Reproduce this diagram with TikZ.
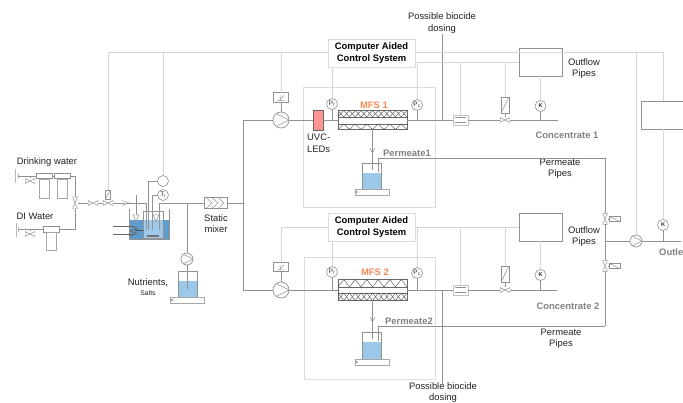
\documentclass[tikz,border=0pt]{standalone}
\usepackage{fontspec}
\setmainfont{Liberation Sans}
\definecolor{PipeColor}{HTML}{929292}
\definecolor{SignalColor}{HTML}{D6D6D6}
\definecolor{FrameColor}{HTML}{DDDDDD}
\definecolor{WaterColor}{HTML}{9CC8EA}
\definecolor{TankColor}{HTML}{5E9CCB}
\definecolor{LedColor}{HTML}{FF9494}
\definecolor{MfsColor}{HTML}{F58A55}
\definecolor{TextDark}{HTML}{222222}
\definecolor{TextGrey}{HTML}{808080}
\newcommand{\mfswave}[3]{\draw[zig] (338,#1) foreach \i in {1,...,6} {-- ++(5.75,#2) -- ++(5.75,#3)};}

\begin{document}
\begin{tikzpicture}[
        x=1pt, y=-1pt, line cap=butt,
        pipe/.style={draw=PipeColor, line width=0.8pt},
        signal/.style={draw=SignalColor, line width=0.8pt},
        zig/.style={draw=black!65, line width=0.45pt},
        part/.style={rectangle, draw=PipeColor, fill=white, line width=0.6pt, inner sep=0pt, outer sep=0pt},
        ctrlbox/.style={part, draw=FrameColor, line width=0.9pt, minimum width=87pt, minimum height=28pt, align=center, font=\fontsize{9.4}{12}\selectfont\bfseries, text=black},
        outbox/.style={part, line width=0.8pt, minimum width=43pt, minimum height=28pt},
        meter/.style={circle, draw=PipeColor, fill=white, line width=0.6pt, inner sep=0pt, outer sep=0pt, minimum size=11pt, font=\fontsize{6.5}{7}\selectfont, text=TextDark},
        pump/.style={circle, draw=PipeColor, fill=white, line width=0.7pt, inner sep=0pt, outer sep=0pt, minimum size=16pt,
          path picture={\draw[PipeColor, line width=0.6pt] (path picture bounding box.north west) -- (path picture bounding box.east) -- (path picture bounding box.south west);}},
        valve/.style={part, draw=none, fill=none, minimum width=10pt, minimum height=5pt,
          path picture={\draw[PipeColor, line width=0.5pt] (path picture bounding box.south west) -- (path picture bounding box.north east) -- (path picture bounding box.south east) -- (path picture bounding box.north west) -- cycle;}},
        vvalve/.style={part, draw=none, fill=none, minimum width=5pt, minimum height=12pt,
          path picture={\draw[PipeColor, line width=0.5pt] (path picture bounding box.north west) -- (path picture bounding box.north east) -- (path picture bounding box.south west) -- (path picture bounding box.south east) -- cycle;}},
        actuator/.style={part, minimum width=8pt, minimum height=16pt,
          path picture={\draw[PipeColor, line width=0.5pt] (path picture bounding box.south west) -- (path picture bounding box.north east);}},
        sideact/.style={part, minimum width=11pt, minimum height=5pt,
          path picture={\draw[PipeColor, line width=0.5pt] (path picture bounding box.north west) -- (path picture bounding box.south east);}},
        flow/.style={part, draw=SignalColor!70!PipeColor, minimum width=15pt, minimum height=10pt,
          path picture={\draw[PipeColor, line width=0.5pt] ([shift={(2pt,-2.5pt)}]path picture bounding box.north west) -- ([shift={(-2pt,-2.5pt)}]path picture bounding box.north east) ([shift={(2pt,2.5pt)}]path picture bounding box.south west) -- ([shift={(-2pt,2.5pt)}]path picture bounding box.south east);}},
        drive/.style={part, minimum width=15pt, minimum height=9.5pt,
          path picture={\draw[PipeColor, line width=0.5pt] ([shift={(-1pt,-3.5pt)}]path picture bounding box.center) -- ([shift={(-1pt,2pt)}]path picture bounding box.center) ([shift={(-4pt,-3pt)}]path picture bounding box.center) -- ([shift={(3pt,-3pt)}]path picture bounding box.center) ([shift={(-1pt,-2pt)}]path picture bounding box.center) -- ([shift={(3pt,2pt)}]path picture bounding box.center);}},
        base/.style={part, draw=PipeColor!80, minimum width=34pt, minimum height=6pt,
          path picture={\draw[PipeColor, line width=0.4pt] ([xshift=1.5pt]path picture bounding box.west) circle (1pt);}},
        head/.style={part, minimum width=16pt, minimum height=5.5pt},
        filt/.style={part, draw=PipeColor!80, minimum width=10pt, minimum height=19pt},
        lbl/.style={align=center, inner sep=0pt, font=\fontsize{9.4}{11.4}\selectfont, text=TextDark},
        slbl/.style={lbl, font=\fontsize{9.4}{11.4}\selectfont\bfseries, text=TextGrey},
        mlbl/.style={lbl, font=\fontsize{9.4}{11.4}\selectfont\bfseries, text=MfsColor}
      ]
        \useasboundingbox (0,0) rectangle (683,403);
        \clip (0,0) rectangle (683,403);

        % process frames and liquid levels
        \draw[draw=FrameColor, line width=0.8pt] (303,87) rectangle (435,207);
        \draw[draw=FrameColor, line width=0.8pt] (304,257) rectangle (435,379);
        \fill[WaterColor] (362,173) rectangle (381,189);
        \fill[WaterColor] (362,342) rectangle (381,359);
        \fill[WaterColor] (178,281) rectangle (197,297);
        \fill[TankColor] (129,220) rectangle (169,239);
        \fill[WaterColor] (143,220) rectangle (163,238);

        % feed side
        \node[lbl] (drink) at (47,162) {Drinking water};
        \node[lbl] (diw) at (35,216) {DI Water};
        \node[part, minimum width=0pt, minimum height=14pt] (wallA) at (15,176) {};
        \node[part, minimum width=0pt, minimum height=5pt] (stubA) at (18,176) {};
        \node[part, minimum width=0pt, minimum height=14pt] (wallB) at (16,230) {};
        \node[part, minimum width=0pt, minimum height=5pt] (stubB) at (18,229.5) {};
        \node[valve] (valveA) at (30,181) {};
        \node[valve] (valveB) at (30,234) {};
        \node[head] (headA) at (44,176) {};
        \node[filt, anchor=north] (filtA) at (44,179) {};
        \node[head] (headB) at (62,176) {};
        \node[filt, anchor=north] (filtB) at (62,179) {};
        \node[head] (headC) at (51.5,229.5) {};
        \node[filt, anchor=north, minimum height=18pt] (filtC) at (51.5,232) {};
        \node[vvalve] (mix3) at (75,203) {};
        \node[valve] (valveC) at (93,203) {};
        \node[valve] (valveD) at (108,203) {};
        \node[actuator, minimum width=5pt, minimum height=9pt] (actD) at (108,194.5) {};
        \node[part, draw=none, fill=none, minimum size=1pt] (chk) at (125,203) {};
        \coordinate (chkA) at (122,200.5);
        \coordinate (chkB) at (129,203);
        \coordinate (chkC) at (122,205.5);
        \coordinate (tankIn) at (146,230);
        \coordinate (tankOut) at (159,230);
        \draw[pipe] (stubA) -- (headA);
        \draw[pipe] (headA) -- (headB);
        \draw[pipe] (headB) -| (mix3);
        \draw[pipe] (stubB) -- (headC);
        \draw[pipe] (headC) -| (mix3);
        \draw[pipe, line width=0.6pt] (valveA) -- (valveA|-stubA);
        \draw[pipe, line width=0.6pt] (valveB) -- (valveB|-stubB);
        \draw[pipe] (mix3) -- (valveC);
        \draw[pipe] (valveC) -- (valveD);
        \draw[pipe] (valveD) -- (chk);
        \draw[pipe, line width=0.5pt] (chkA) -- (chkB) -- (chkC);
        \draw[pipe] (chk) -| (tankIn);
        \draw[pipe, line width=0.6pt] (actD) -- (valveD);

        % stirred tank
        \draw[pipe, line width=0.7pt] (129,209) |- (169,239) -- (169,209);
        \draw[pipe, line width=0.7pt] (143,238) |- (163,211) -- (163,238) -- cycle;
        \draw[pipe, line width=0.6pt] (136,195) -- (136,217);
        \draw[pipe, line width=0.5pt, fill=white] (133,215) -- (139,215) -- (136,221) -- cycle;
        \draw[pipe, line width=0.5pt, fill=white] (153,215) -- (159,215) -- (156,221) -- cycle;
        \draw[draw=black!60, line width=0.7pt] (113,226) -- (135,226) (113,234) -- (135,234);
        \draw[draw=black!60, line width=0.7pt] (130,226) -- (137,228.5) -- (130,231) -- (137,233.5) -- (130,236);
        \draw[draw=black!70, line width=0.9pt] (135,230) -- (143,230);
        \fill[black!55] (147,235) rectangle (159,237.5);
        \node[meter] (lvl) at (163,181) {};
        \node[meter] (temp) at (163,195) {T$_\mathrm{i}$};
        \coordinate (lvlEnd) at (148,230);
        \coordinate (tempEnd) at (152,230);
        \draw[pipe, line width=0.7pt] (lvl) -| (lvlEnd);
        \draw[pipe, line width=0.7pt] (temp) -| (tempEnd);

        % dosing and mixer
        \node[part, minimum width=23pt, minimum height=11pt,
          path picture={\foreach \i in {0,6,12}{\draw[PipeColor, line width=0.5pt] ([xshift=\i pt+2pt]path picture bounding box.north west) -- ([xshift=\i pt+8pt]path picture bounding box.west) -- ([xshift=\i pt+2pt]path picture bounding box.south west);}}] (mixer) at (215.5,203) {};
        \node[lbl] (mixlbl) at (216,223.5) {Static\\mixer};
        \node[pump, minimum size=12pt] (pumpN) at (187,259) {};
        \node[base] (baseN) at (187.5,300) {};
        \draw[pipe, line width=0.7pt] (178,297) |- (197,271) -- (197,297);
        \node[lbl] (nutr) at (148,283) {Nutrients,};
        \node[lbl, font=\fontsize{6.8}{8}\selectfont] (salts) at (148,293) {Salts};
        \coordinate (tankTop) at (159,203);
        \coordinate (dosT) at (187,203);
        \coordinate (dosEnd) at (187,290);
        \coordinate (feedT) at (243,203);
        \coordinate (feedA) at (243,120);
        \coordinate (feedB) at (243,290);
        \draw[pipe] (tankOut) -- (tankTop) -- (mixer);
        \draw[pipe] (dosT) -- (pumpN);
        \draw[pipe] (pumpN) -- (dosEnd);
        \draw[pipe] (mixer) -- (feedT);
        \draw[pipe] (feedA) -- (feedB);

        % train 1
        \node[ctrlbox] (ctrlA) at (371.5,53) {Computer Aided\\Control System};
        \node[pump] (pumpA) at (281,120) {};
        \node[drive] (driveA) at (281,97.5) {};
        \node[part, draw=PipeColor!70!black, fill=LedColor, minimum width=10pt, minimum height=20pt] (led) at (318,120) {};
        \node[lbl, align=left, anchor=north west] (ledlbl) at (307,134) {UVC-\\LEDs};
        \node[meter] (pfA) at (332,104) {P$_\mathrm{f}$};
        \node[meter] (pcA) at (417,105) {P$_\mathrm{c}$};
        \node[part, draw=black!60, minimum width=69pt, minimum height=19pt] (mfsA) at (372.5,120) {};
        \draw[draw=black!60, line width=0.6pt] (338,117) -- (407,117) (338,124) -- (407,124);
        \mfswave{117}{-6.5}{6.5}
        \mfswave{110.5}{6.5}{-6.5}
        \mfswave{129.5}{-5.5}{5.5}
        \node[mlbl] (mfsAlbl) at (374,105) {MFS 1};
        \node[flow] (flowA) at (460.5,120) {};
        \node[valve] (valveE) at (505,120) {};
        \node[actuator] (actE) at (505,105) {};
        \node[meter, font=\fontsize{5.5}{6}\selectfont\bfseries] (kA) at (540.5,106) {K};
        \node[outbox] (outA) at (540.5,62) {};
        \node[lbl] (outAlbl) at (584,68.5) {Outflow\\Pipes};
        \node[slbl] (concA) at (567,135) {Concentrate 1};
        \node[lbl] (bioA) at (442,23) {Possible biocide\\dosing};
        \node[base] (baseA) at (372,192) {};
        \node[slbl] (permA) at (407,153) {Permeate1};
        \node[lbl] (pipesA) at (560,168.5) {Permeate\\Pipes};
        \draw[pipe, line width=0.7pt] (362,189) |- (381,163) -- (381,189);
        \coordinate (jfA) at (332,120);
        \coordinate (jcA) at (417,120);
        \coordinate (jbA) at (442,120);
        \coordinate (jkA) at (540.5,120);
        \coordinate (endA) at (558,120);
        \coordinate (bioAend) at (442,34);
        \coordinate (permAend) at (372.5,170);
        \coordinate (permAout) at (378,172);
        \coordinate (permAcor) at (605,158);
        \draw[pipe] (feedA) -- (pumpA);
        \draw[pipe] (pumpA) -- (led);
        \draw[pipe] (led) -- (mfsA);
        \draw[pipe] (mfsA) -- (flowA);
        \draw[pipe] (flowA) -- (valveE);
        \draw[pipe] (valveE) -- (endA);
        \draw[pipe, line width=0.7pt] (pumpA) -- (driveA);
        \draw[pipe, line width=0.7pt] (pfA) -- (jfA);
        \draw[pipe, line width=0.7pt] (pcA) -- (jcA);
        \draw[pipe] (bioAend) -- (jbA);
        \draw[pipe, line width=0.7pt] (kA) -- (jkA);
        \draw[pipe, line width=0.6pt] (actE) -- (valveE);
        \draw[pipe] (mfsA) -- (permAend);
        \draw[pipe, line width=0.5pt] (370,148) -- (372.5,153) -- (375,148);
        \draw[pipe] (permAout) |- (permAcor);

        % train 2
        \node[ctrlbox] (ctrlB) at (371.5,227) {Computer Aided\\Control System};
        \node[pump] (pumpB) at (281,290) {};
        \node[drive] (driveB) at (281,267) {};
        \node[meter] (pfB) at (332,272) {P$_\mathrm{f}$};
        \node[meter] (pcB) at (417,273) {P$_\mathrm{c}$};
        \node[part, draw=black!60, minimum width=69pt, minimum height=21pt] (mfsB) at (372.5,290) {};
        \draw[draw=black!60, line width=0.6pt] (338,287) -- (407,287) (338,293) -- (407,293);
        \mfswave{287}{-7.5}{7.5}
        \mfswave{293}{7.5}{-7.5}
        \mfswave{300.5}{-7.5}{7.5}
        \node[mlbl] (mfsBlbl) at (375,272) {MFS 2};
        \node[flow] (flowB) at (460.5,290) {};
        \node[valve] (valveF) at (505,290) {};
        \node[actuator] (actF) at (505,274) {};
        \node[meter, font=\fontsize{5.5}{6}\selectfont\bfseries] (kB) at (540.5,275) {K};
        \node[outbox] (outB) at (540.5,227.5) {};
        \node[lbl] (outBlbl) at (584,236.5) {Outflow\\Pipes};
        \node[slbl] (concB) at (568,306) {Concentrate 2};
        \node[lbl, font=\fontsize{9.4}{10.4}\selectfont] (bioB) at (443,392.5) {Possible biocide\\dosing};
        \node[base] (baseB) at (372,362) {};
        \node[slbl] (permB) at (409,321) {Permeate2};
        \node[lbl] (pipesB) at (561,338.5) {Permeate\\Pipes};
        \draw[pipe, line width=0.7pt] (362,359) |- (381,332) -- (381,359);
        \coordinate (jfB) at (332,290);
        \coordinate (jcB) at (417,290);
        \coordinate (jbB) at (442,290);
        \coordinate (jkB) at (540.5,290);
        \coordinate (endB) at (557,290);
        \coordinate (bioBend) at (442,384);
        \coordinate (permBend) at (372.5,339);
        \coordinate (permBout) at (378,341);
        \coordinate (permBcor) at (605,326);
        \draw[pipe] (feedB) -- (pumpB);
        \draw[pipe] (pumpB) -- (mfsB);
        \draw[pipe] (mfsB) -- (flowB);
        \draw[pipe] (flowB) -- (valveF);
        \draw[pipe] (valveF) -- (endB);
        \draw[pipe, line width=0.7pt] (pumpB) -- (driveB);
        \draw[pipe, line width=0.7pt] (pfB) -- (jfB);
        \draw[pipe, line width=0.7pt] (pcB) -- (jcB);
        \draw[pipe] (jbB) -- (bioBend);
        \draw[pipe, line width=0.7pt] (kB) -- (jkB);
        \draw[pipe, line width=0.6pt] (actF) -- (valveF);
        \draw[pipe] (mfsB) -- (permBend);
        \draw[pipe, line width=0.5pt] (370,317) -- (372.5,322) -- (375,317);
        \draw[pipe] (permBout) |- (permBcor);

        % permeate collector and outlet
        \node[vvalve, minimum height=11pt] (valveG) at (605,219) {};
        \node[vvalve, minimum height=11pt] (valveH) at (605,266) {};
        \node[sideact] (actG) at (614.5,219) {};
        \node[sideact] (actH) at (614.5,266) {};
        \node[pump, minimum size=12pt] (pumpC) at (636,241) {};
        \node[meter, font=\fontsize{5.5}{6}\selectfont\bfseries] (kC) at (663,225) {K};
        \node[outbox, anchor=west] (outC) at (641,115) {};
        \node[slbl, anchor=west] (outlet) at (659,252) {Outle};
        \coordinate (colT) at (605,241);
        \coordinate (jkC) at (663,241);
        \coordinate (endC) at (681,241);
        \draw[pipe] (permAcor) -- (valveG);
        \draw[pipe] (valveG) -- (colT);
        \draw[pipe] (colT) -- (valveH);
        \draw[pipe] (valveH) -- (permBcor);
        \draw[pipe] (colT) -- (pumpC);
        \draw[pipe] (pumpC) -- (endC);
        \draw[pipe, line width=0.7pt] (kC) -- (jkC);
        \draw[pipe, line width=0.6pt] (valveG) -- (actG);
        \draw[pipe, line width=0.6pt] (valveH) -- (actH);

        % control signals
        \coordinate (busL) at (108,52);
        \coordinate (busLv) at (163,52);
        \coordinate (busP) at (281,52);
        \coordinate (busR) at (663,52);
        \coordinate (busPc) at (636,52);
        \coordinate (busA) at (417,62);
        \coordinate (busB) at (460.5,62);
        \coordinate (busC) at (505,62);
        \coordinate (busD) at (417,227);
        \coordinate (busE) at (460.5,227);
        \coordinate (busF) at (505,227);
        \coordinate (busG) at (281,227);
        \draw[signal] (actD) -- (busL) -- (ctrlA.west|-busL);
        \draw[signal] (lvl) -- (busLv);
        \draw[signal] (driveA) -- (busP);
        \draw[signal] (ctrlA.east|-busR) -- (busR) -- (busR|-outC.north);
        \draw[signal] (busR|-outC.south) -- (kC);
        \draw[signal] (busPc) -- (pumpC);
        \draw[signal] (pfA) -- (pfA|-ctrlA.south);
        \draw[signal] (ctrlA.east|-busA) -- (outA.west|-busA);
        \draw[signal] (pcA) -- (busA);
        \draw[signal] (flowA) -- (busB);
        \draw[signal] (actE) -- (busC);
        \draw[signal] (kA) -- (outA);
        \draw[signal] (ctrlB) -- (busG) -- (driveB);
        \draw[signal] (pfB) -- (pfB|-ctrlB.south);
        \draw[signal] (ctrlB.east) -- (outB.west|-ctrlB.east);
        \draw[signal] (pcB) -- (busD);
        \draw[signal] (flowB) -- (busE);
        \draw[signal] (actF) -- (busF);
        \draw[signal] (kB) -- (outB);
      \end{tikzpicture}
\end{document}
